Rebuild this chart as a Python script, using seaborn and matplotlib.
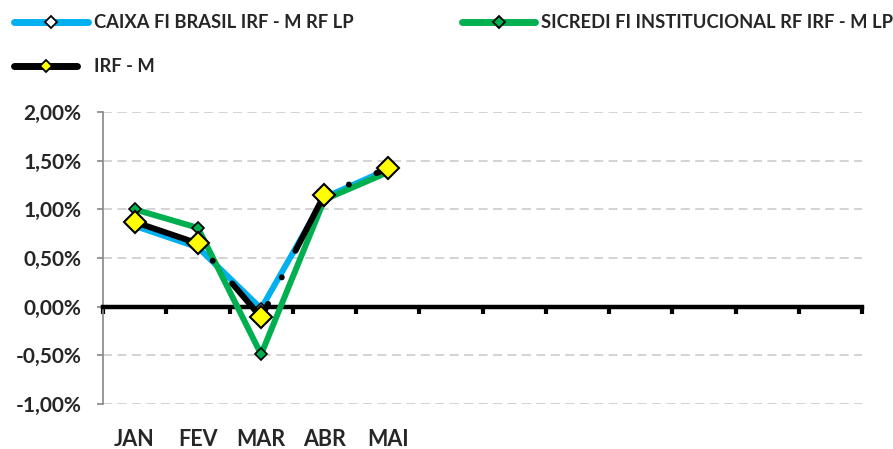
import matplotlib
matplotlib.use("Agg")
import matplotlib.pyplot as plt
from matplotlib.lines import Line2D
from matplotlib.ticker import FuncFormatter, FixedLocator
import seaborn as sns
import numpy as np

# ---- data ----
months = ["JAN", "FEV", "MAR", "ABR", "MAI", "", "", "", "", "", "", ""]
caixa = [0.83, 0.61, -0.02, 1.12, 1.41]
sicredi = [1.00, 0.81, -0.49, 1.10, 1.38]
irfm = [0.87, 0.65, -0.11, 1.15, 1.42]
label_caixa = "CAIXA FI BRASIL IRF - M RF LP"
label_sicredi = "SICREDI FI INSTITUCIONAL RF IRF - M LP"
label_irfm = "IRF - M"
yticks = [-1.0, -0.5, 0.0, 0.5, 1.0, 1.5, 2.0]

BLUE = "#00B0F0"
GREEN = "#00B050"
YELLOW = "#FFFF00"

sns.set_theme(style="white")
plt.rcParams["font.family"] = ["Lato", "DejaVu Sans"]
plt.rcParams["font.weight"] = "bold"

fig = plt.figure(figsize=(8.93, 4.49), dpi=100)
ax = fig.add_axes([103 / 893, 1 - 404 / 449, (862 - 103) / 893, (404 - 112) / 449])

x = np.arange(len(caixa))
sns.lineplot(x=x, y=caixa, ax=ax, color=BLUE, lw=4.3, marker="D", markersize=6,
             markerfacecolor="white", markeredgecolor="black", markeredgewidth=1.2,
             solid_capstyle="round", zorder=3)
sns.lineplot(x=x, y=sicredi, ax=ax, color=GREEN, lw=4.3, marker="D", markersize=6,
             markerfacecolor=GREEN, markeredgecolor="black", markeredgewidth=1.2,
             solid_capstyle="round", zorder=4)
sns.lineplot(x=x, y=irfm, ax=ax, color="black", lw=4.3,
             linestyle=(0, (10, 5, 0.01, 5)), dash_capstyle="round",
             marker="D", markersize=11.5, markerfacecolor=YELLOW,
             markeredgecolor="black", markeredgewidth=1.5, zorder=5)

ax.set_xlim(-0.5, len(months) - 0.5)
ax.set_ylim(-1.0, 2.0)

# y axis
ax.yaxis.set_major_locator(FixedLocator(yticks))
ax.yaxis.set_major_formatter(FuncFormatter(lambda v, p: f"{v:.2f}%".replace(".", ",")))
ax.tick_params(axis="y", direction="out", length=4.5, width=1.2, color="#868686",
               pad=11, labelsize=15, left=True)
for lab in ax.get_yticklabels():
    lab.set_fontweight("bold")
ax.yaxis.grid(True, color="#D0D0D0", linestyle=(0, (5, 3)), lw=1.3)
ax.xaxis.grid(False)
ax.spines["left"].set_color("#868686")
ax.spines["left"].set_linewidth(1.2)
ax.spines["top"].set_visible(False)
ax.spines["right"].set_visible(False)

# zero axis with category boundary ticks
ax.spines["bottom"].set_position(("data", 0))
ax.spines["bottom"].set_color("black")
ax.spines["bottom"].set_linewidth(3.2)
ax.spines["bottom"].set_zorder(2.5)
ax.set_xticks(np.arange(-0.5, len(months), 1.0))
ax.set_xticklabels([])
ax.tick_params(axis="x", direction="out", length=5, width=3, color="black", bottom=True)

# category labels at the bottom
sec = ax.secondary_xaxis("bottom")
sec.set_xticks(np.arange(len(months)))
sec.set_xticklabels(months)
sec.tick_params(length=0, pad=18, labelsize=15.5)
for lab in sec.get_xticklabels():
    lab.set_fontweight("bold")
sec.spines["bottom"].set_visible(False)

# legends
def make_handle(color, mfc, ms, mec="black"):
    return Line2D([0], [0], color=color, lw=5, solid_capstyle="round",
                  marker="D", markersize=ms, markerfacecolor=mfc,
                  markeredgecolor=mec, markeredgewidth=1.3)

leg_kw = dict(frameon=False, loc="upper left", borderpad=0, borderaxespad=0,
              numpoints=1,
              prop={"family": ["Lato", "DejaVu Sans"], "weight": "bold", "size": 13.2})
l1 = fig.legend([make_handle(BLUE, "white", 6)], [label_caixa],
                bbox_to_anchor=(14 / 893, 1 - 14 / 449), handlelength=4.05,
                handletextpad=0.32, **leg_kw)
l2 = fig.legend([make_handle(GREEN, GREEN, 6)], [label_sicredi],
                bbox_to_anchor=(462 / 893, 1 - 14 / 449), handlelength=4.0,
                handletextpad=0.32, **leg_kw)
l3 = fig.legend([make_handle("black", YELLOW, 6)], [label_irfm],
                bbox_to_anchor=(14 / 893, 1 - 58 / 449), handlelength=3.45,
                handletextpad=0.93, **leg_kw)

fig.savefig("out.png", dpi=100)
